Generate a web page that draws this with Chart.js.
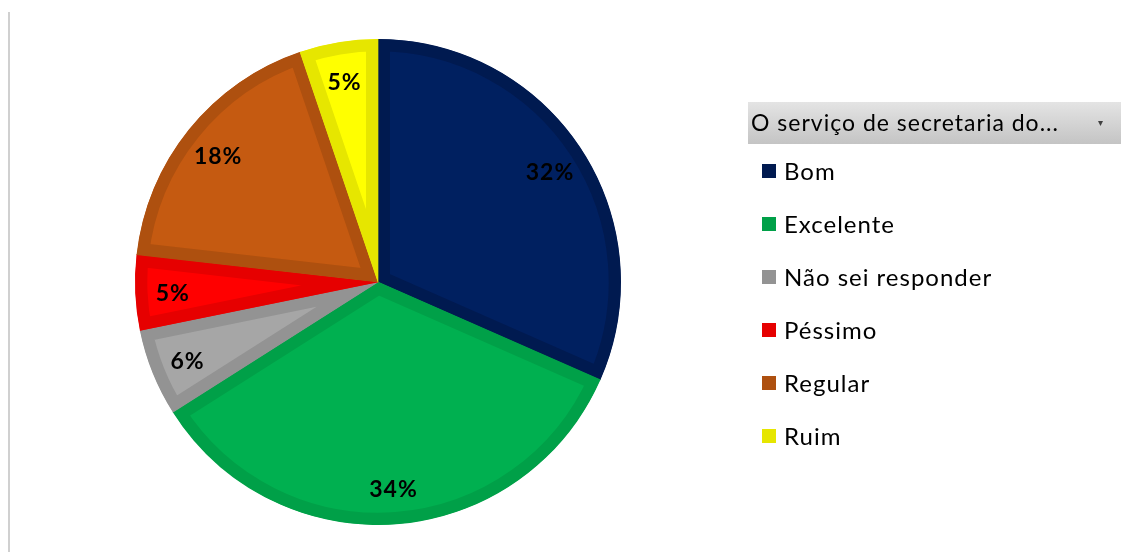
<!DOCTYPE html>
<html>
<head>
<meta charset="utf-8">
<script src="https://cdn.jsdelivr.net/npm/chart.js@4/dist/chart.umd.min.js"></script>
<style>
  html, body { margin: 0; padding: 0; background: #ffffff; }
  #wrap { position: relative; width: 1131px; height: 552px; }
  #vline { position: absolute; left: 8px; top: 12px; width: 2px; height: 540px; background: #d0d0d0; }
  canvas { position: absolute; left: 0; top: 0; }
</style>
</head>
<body>
<div id="wrap">
  <div id="vline"></div>
  <canvas id="c" width="1131" height="552"></canvas>
</div>
<script>
const legendTitle = "O serviço de secretaria do...";
const categories = ["Bom", "Excelente", "Não sei responder", "Péssimo", "Regular", "Ruim"];
const shares = [31.6, 34.4, 5.8, 5.0, 18.0, 5.2];
const fillColors = ["#002060", "#00B050", "#A6A6A6", "#FF0000", "#C55A11", "#FFFF00"];
const edgeColors = ["#001A50", "#00A048", "#939393", "#E60000", "#AE500F", "#E6E600"];

const labelPlugin = {
  id: 'sliceLabels',
  afterDatasetsDraw(chart) {
    const ctx = chart.ctx;
    const meta = chart.getDatasetMeta(0);
    const data = chart.data.datasets[0].data;
    const total = data.reduce((a, b) => a + b, 0);
    ctx.save();
    ctx.font = 'bold 23px Lato';
    ctx.letterSpacing = '1px';
    ctx.fillStyle = '#000000';
    ctx.textAlign = 'center';
    ctx.textBaseline = 'middle';
    meta.data.forEach((arc, i) => {
      const p = arc.getProps(['x', 'y', 'startAngle', 'endAngle', 'outerRadius']);
      const mid = (p.startAngle + p.endAngle) / 2;
      const r = p.outerRadius * 0.845;
      const txt = Math.round(data[i] / total * 100) + '%';
      ctx.fillText(txt, p.x + Math.cos(mid) * r, p.y + Math.sin(mid) * r + 3);
    });
    ctx.restore();
  }
};

const legendPlugin = {
  id: 'sideLegend',
  afterDraw(chart) {
    const ctx = chart.ctx;
    ctx.save();
    // header
    const hx = 748, hy = 102, hw = 373, hh = 42;
    const g = ctx.createLinearGradient(0, hy, 0, hy + hh);
    g.addColorStop(0, '#e4e4e4');
    g.addColorStop(1, '#c4c4c4');
    ctx.fillStyle = g;
    ctx.fillRect(hx, hy, hw, hh);
    ctx.fillStyle = '#000000';
    ctx.font = '23px Lato';
    ctx.letterSpacing = '1px';
    ctx.textBaseline = 'middle';
    ctx.textAlign = 'left';
    ctx.fillText(legendTitle, 751, hy + hh / 2 + 1);
    ctx.letterSpacing = '0px';
    ctx.font = '10px DejaVu Sans';
    ctx.fillStyle = '#404040';
    ctx.fillText('▾', 1098, hy + hh / 2);
    // entries
    ctx.font = '24px Lato';
    ctx.letterSpacing = '1px';
    chart.data.labels.forEach((lab, i) => {
      const y = 171 + i * 53;
      ctx.fillStyle = edgeColors[i];
      ctx.fillRect(762, y - 7, 14, 14);
      ctx.fillStyle = '#000000';
      ctx.fillText(lab, 784, y + 1);
    });
    ctx.restore();
  }
};

new Chart(document.getElementById('c'), {
  type: 'pie',
  data: {
    labels: categories,
    datasets: [{
      data: shares,
      backgroundColor: fillColors,
      borderColor: edgeColors,
      borderWidth: 12,
      borderAlign: 'inner'
    }]
  },
  options: {
    responsive: false,
    animation: false,
    layout: { padding: { left: 135, right: 510, top: 39, bottom: 27 } },
    plugins: { legend: { display: false }, tooltip: { enabled: false } }
  },
  plugins: [labelPlugin, legendPlugin]
});
</script>
</body>
</html>
